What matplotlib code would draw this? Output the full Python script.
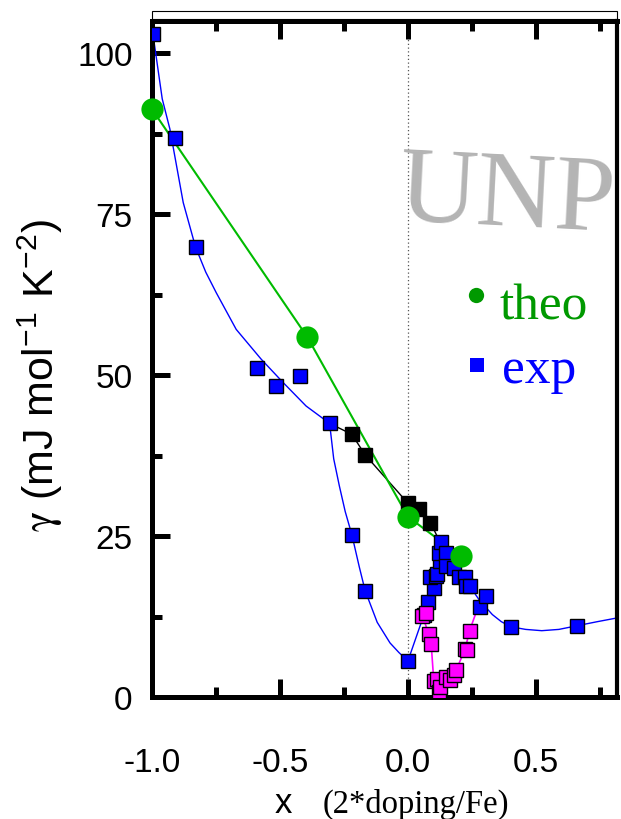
import matplotlib
matplotlib.use("Agg")
import matplotlib.pyplot as plt
from matplotlib.patches import Rectangle
from matplotlib.ticker import MultipleLocator

# theory points
theo_x = [-1.0, -0.393, 0.0, 0.206]
theo_y = [91.3, 55.9, 28.0, 21.9]

# experimental, blue squares
exp_x = [-0.995, -0.912, -0.83, -0.59, -0.515, -0.421, -0.306, -0.219, -0.167, 0.0,
         0.062, 0.079, 0.101, 0.088, 0.108, 0.114, 0.127, 0.121, 0.130, 0.147, 0.147,
         0.179, 0.198, 0.222, 0.227, 0.244, 0.280, 0.306, 0.403, 0.661]
exp_y = [103.0, 86.9, 69.9, 51.1, 48.3, 49.8, 42.5, 25.2, 16.5, 5.6,
         12.7, 14.8, 17.0, 18.6, 18.8, 19.1, 21.2, 22.4, 24.0, 22.4, 20.3,
         20.1, 18.6, 18.7, 17.3, 17.3, 14.0, 15.7, 10.9, 11.07]

# black squares
blk_x = [-0.219, -0.167, 0.0, 0.043, 0.088]
blk_y = [40.8, 37.6, 30.1, 29.2, 27.1]

# magenta squares
mag_x = [0.056, 0.069, 0.082, 0.091, 0.101, 0.114, 0.121, 0.127, 0.147, 0.166, 0.179,
         0.189, 0.224, 0.231, 0.241]
mag_y = [12.6, 13.1, 9.8, 8.2, 2.5, 2.8, 0.8, 1.5, 3.1, 2.6, 3.4,
         4.2, 7.5, 7.3, 10.3]

# guide curves
fitL_x = [-1.0, -0.96, -0.93, -0.878, -0.83, -0.79, -0.749, -0.671, -0.574, -0.489,
          -0.398, -0.306, -0.29, -0.268, -0.245, -0.219, -0.19, -0.167, -0.12, -0.07,
          -0.035, 0.0]
fitL_y = [104.0, 92.9, 88.2, 76.8, 69.9, 66.0, 62.8, 57.1, 52.5, 48.9,
          45.2, 42.5, 37.0, 32.8, 28.8, 25.2, 20.2, 16.5, 11.6, 8.4,
          6.9, 5.6]
fitR_x = [0.0, 0.062, 0.079, 0.10, 0.12, 0.14, 0.18, 0.24, 0.28, 0.33, 0.365, 0.403,
          0.46, 0.523, 0.59, 0.661, 0.74, 0.82]
fitR_y = [5.6, 12.7, 14.8, 18.5, 22.0, 23.5, 21.0, 17.3, 15.0, 12.8, 11.7, 10.9,
          10.5, 10.3, 10.5, 11.07, 11.7, 12.3]
blkL_x = [-0.306, -0.219, -0.167, 0.0, 0.043, 0.088, 0.12]
blkL_y = [42.5, 40.8, 37.6, 30.1, 29.2, 27.1, 24.5]
magL_x = [0.056, 0.082, 0.091, 0.101, 0.121, 0.147, 0.166, 0.189, 0.224, 0.241, 0.276]
magL_y = [12.6, 9.8, 8.2, 2.5, 0.8, 3.1, 2.6, 4.2, 7.5, 10.3, 14.2]

sans = "Liberation Sans"
serif = "Liberation Serif"
green_mk = "#00bb00"
green_txt = "#009900"

plt.rcParams["mathtext.fontset"] = "custom"
plt.rcParams["mathtext.rm"] = sans
plt.rcParams["mathtext.it"] = "STIXGeneral"

fig = plt.figure(figsize=(6.21, 8.2), dpi=100)
ax = fig.add_axes([152 / 621, 1 - 698 / 820, 465 / 621, 676 / 820])

ax.axvline(0, color="#555555", lw=0.9, ls=(0, (1, 2)), zorder=1)

ax.plot(fitL_x, fitL_y, color="blue", lw=1.0, zorder=2)
ax.plot(fitR_x, fitR_y, color="blue", lw=1.0, zorder=2)
ax.plot(blkL_x, blkL_y, color="black", lw=1.0, zorder=2)
ax.plot(magL_x, magL_y, color="magenta", lw=1.2, zorder=2)

sq = dict(marker="s", ls="none", ms=10, mec="black", mew=1.0, zorder=4)
ax.plot(exp_x, exp_y, mfc="blue", **sq)
ax.plot(blk_x, blk_y, mfc="black", **sq)
ax.plot(mag_x, mag_y, mfc="magenta", **sq)

ax.plot(theo_x, theo_y, color=green_mk, lw=1.5, zorder=3)
ax.plot(theo_x, theo_y, "o", color=green_mk, ms=16, mew=0, zorder=5, clip_on=False)

ax.set_xlim(-1.0, 0.817)
ax.set_ylim(0, 105)
ax.xaxis.set_minor_locator(MultipleLocator(0.25))
ax.yaxis.set_major_locator(MultipleLocator(25))
ax.yaxis.set_minor_locator(MultipleLocator(12.5))
ax.set_xticks([-1.0, -0.5, 0.0, 0.5])
ax.set_xticklabels(["-1.0", "-0.5", "0.0", "0.5"])

for s in ax.spines.values():
    s.set_linewidth(3.6)
ax.spines["right"].set_linewidth(3.0)

ax.tick_params(which="both", direction="in", top=True, right=False, width=3.6,
               labelsize=24, labelfontfamily=sans)
ax.tick_params(which="major", length=13)
ax.tick_params(which="minor", length=7)
ax.tick_params(axis="x", which="major", pad=36)
ax.tick_params(axis="y", which="major", pad=14)

# thin frame above the top axis
fig.patches.append(Rectangle((152 / 621, 1 - 20 / 820), 465 / 621, 8 / 820,
                             transform=fig.transFigure, fill=False,
                             edgecolor="black", lw=0.8))

# watermark, slightly tilted and running off the right edge (as in the original)
fig.text(398 / 621, 1 - 220 / 820, "UNP", family=serif, fontsize=78,
         color="#b4b4b4", ha="left", va="baseline", rotation=-3,
         rotation_mode="anchor", zorder=6)

# legend drawn by hand
ax.plot([0.266], [62.5], "o", color=green_txt, ms=11, mew=0, zorder=6)
ax.plot([0.27], [51.5], "s", color="blue", ms=10, mew=0, zorder=6)
fig.text(500 / 621, 1 - 320 / 820, "theo", family=serif, fontsize=37,
         color=green_txt, ha="left", va="baseline")
fig.text(502 / 621, 1 - 383 / 820, "exp", family=serif, fontsize=37,
         color="blue", ha="left", va="baseline")

# axis labels
fig.text(40 / 621, 1 - 375 / 820, r"$\gamma$ (mJ mol$^{-1}$ K$^{-2}$)", family=sans,
         fontsize=31, rotation=90, ha="center", va="center")
fig.text(275 / 621, 1 - 813 / 820, "x", family=sans, fontsize=25,
         ha="left", va="baseline")
fig.text(323 / 621, 1 - 813 / 820, "(2*doping/Fe)", family=serif, fontsize=23.5,
         ha="left", va="baseline")

fig.savefig("out.png", dpi=100)
